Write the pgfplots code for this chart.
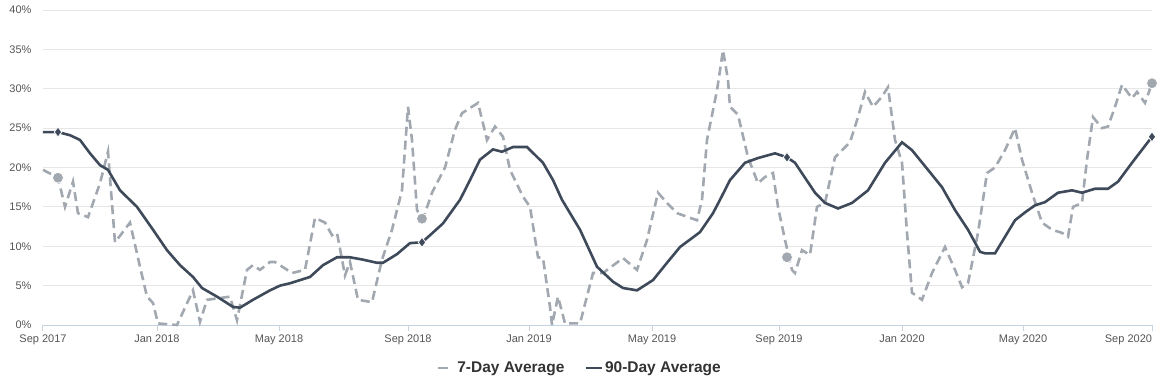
\documentclass[border=0pt]{standalone}
\usepackage{fontspec}
\setmainfont{Liberation Sans}
\usepackage{pgfplots}
\pgfplotsset{compat=1.18}
\definecolor{dashc}{HTML}{A2A8B0}
\definecolor{solidc}{HTML}{3E4A5A}
\definecolor{gridc}{HTML}{E6E6E6}
\definecolor{axisc}{HTML}{C5D2E0}
\definecolor{txtc}{HTML}{555555}
\definecolor{legc}{HTML}{333333}
\pgfplotsset{
  legdash/.style={legend image code/.code={\draw[##1, dash pattern=on 10pt off 6pt] (0pt,0pt) -- (16pt,0pt);}},
  legsolid/.style={legend image code/.code={\draw[##1] (0pt,0pt) -- (16pt,0pt);}}
}
\begin{document}
\begin{tikzpicture}[x=1pt,y=1pt]
\path[use as bounding box] (0,0) rectangle (1173,384);
\begin{axis}[
  at={(43pt,59pt)}, anchor=south west,
  scale only axis, width=1109pt, height=315pt,
  xmin=43, xmax=1152, ymin=0, ymax=40,
  axis x line*=bottom, axis y line*=left,
  separate axis lines,
  x axis line style={axisc, line width=1pt},
  y axis line style={draw=none},
  xtick={43,157,279,408,529,652,779,902,1023,1152},
  xticklabels={Sep 2017,Jan 2018,May 2018,Sep 2018,Jan 2019,May 2019,Sep 2019,Jan 2020,May 2020,\makebox[0pt][r]{Sep 2020}},
  xtick align=outside,
  x tick style={axisc, line width=1pt},
  major tick length=6pt,
  ytick={0,5,10,15,20,25,30,35,40},
  yticklabels={0\%,5\%,10\%,15\%,20\%,25\%,30\%,35\%,40\%},
  y tick style={draw=none},
  ymajorgrids, grid style={gridc, line width=1pt},
  tick label style={font=\fontsize{11}{13}\selectfont, text=txtc},
  yticklabel style={xshift=-8pt},
  legend style={at={(0.484,-0.137)}, anchor=center, draw=none, fill=none,
    legend columns=2, font=\fontsize{15.5}{18}\selectfont\bfseries, text=legc,
    /tikz/every even column/.append style={column sep=18pt}},
  legend cell align=left,
  clip=false,
]
\addplot[dashc, line width=2.6pt, dash pattern=on 9pt off 5pt, legdash]
coordinates {
(43,19.7) (58,18.7) (65,15.0) (73,18.2) (78,14.2) (88,13.7) (100,18.0) (108,22.0)
(115,10.5) (130,13.0) (140,7.4) (147,3.6) (153,2.8) (158,0.2) (177,0) (193,4.4)
(200,0.4) (207,3.2) (230,3.6) (237,0.6) (247,7.0) (253,7.6) (260,7.0) (270,8.0)
(275,8.0) (292,6.6) (305,7.0) (315,13.6) (325,13.0) (332,11.4) (337,11.7) (345,6.3)
(350,8.0) (358,3.2) (372,2.9) (382,8.3) (392,12.1) (402,17.1) (408,27.7) (412,23.5)
(417,14.6) (422,13.5) (425,14.2) (432,16.8) (445,20.0) (455,24.8) (462,26.9) (478,28.2)
(487,23.5) (495,25.2) (503,23.9) (510,19.7) (523,16.3) (530,15.0) (538,8.6) (543,8.5)
(550,2.3) (552,0) (558,3.6) (565,0.2) (580,0.2) (593,6.6) (603,6.6) (623,8.5)
(637,7.0) (647,10.8) (658,16.8) (667,15.5) (677,14.2) (697,13.3) (702,15.9) (707,23.5)
(717,29.8) (723,34.9) (728,31.1) (730,27.7) (738,26.7) (748,21.3) (758,18.0) (765,18.8)
(773,19.3) (778,15.0) (785,10.8) (792,7.0) (795,6.6) (802,9.5) (810,8.9) (817,15.0)
(825,15.5) (835,21.3) (850,23.2) (858,26.4) (865,29.6) (873,27.7) (882,29.0) (888,30.2)
(895,23.5) (902,20.6) (907,11.7) (912,4.1) (922,3.2) (932,6.6) (945,9.9) (955,7.0)
(962,4.8) (968,5.3) (978,11.7) (987,19.3) (995,20.0) (1005,22.2) (1015,25.0) (1022,21.0)
(1032,16.8) (1042,13.0) (1052,12.1) (1062,11.7) (1068,11.2) (1073,15.0) (1082,15.5) (1087,21.0)
(1093,26.4) (1102,25.0) (1108,25.2) (1115,27.7) (1122,30.5) (1132,28.8) (1137,29.6) (1145,28.2)
(1152,30.7)
};
\addlegendentry{7-Day Average}
\addplot[solidc, line width=2.6pt, legsolid]
coordinates {
(43,24.5) (58,24.5) (70,24.1) (80,23.5) (90,21.8) (100,20.3) (108,19.7) (120,17.1)
(137,15.0) (153,12.1) (167,9.5) (180,7.6) (193,6.1) (202,4.7) (217,3.6) (233,2.3)
(240,2.2) (253,3.2) (270,4.4) (280,5.0) (290,5.3) (310,6.1) (323,7.6) (337,8.6)
(350,8.6) (363,8.3) (377,7.9) (383,7.9) (397,9.0) (410,10.4) (422,10.5) (430,11.4)
(443,12.9) (460,15.9) (470,18.4) (480,21.0) (493,22.3) (502,22.0) (513,22.6) (527,22.6)
(543,20.6) (553,18.4) (562,15.9) (580,12.1) (597,7.4) (613,5.5) (623,4.7) (637,4.4)
(653,5.7) (667,7.9) (680,9.9) (700,11.8) (713,14.2) (720,15.9) (730,18.4) (745,20.6)
(758,21.2) (775,21.8) (787,21.3) (795,20.6) (815,16.8) (825,15.5) (838,14.8) (852,15.5)
(868,17.1) (885,20.6) (902,23.2) (912,22.2) (928,19.7) (942,17.5) (955,14.6) (968,12.1)
(980,9.3) (985,9.1) (995,9.1) (1005,11.2) (1015,13.3) (1025,14.3) (1035,15.2) (1045,15.6)
(1058,16.8) (1072,17.1) (1082,16.8) (1095,17.3) (1108,17.3) (1118,18.2) (1132,20.6) (1152,23.9)
};
\addlegendentry{90-Day Average}
\addplot[only marks, mark=*, mark size=5.5pt, mark options={fill=dashc, draw=white, line width=0.8pt}, forget plot]
coordinates {(58,18.7) (422,13.5) (787,8.6) (1152,30.7)};
\addplot[only marks, mark=diamond*, mark size=5pt, mark options={fill=solidc, draw=white, line width=0.8pt}, forget plot]
coordinates {(58,24.5) (422,10.5) (787,21.3) (1152,23.9)};
\end{axis}
\end{tikzpicture}
\end{document}
